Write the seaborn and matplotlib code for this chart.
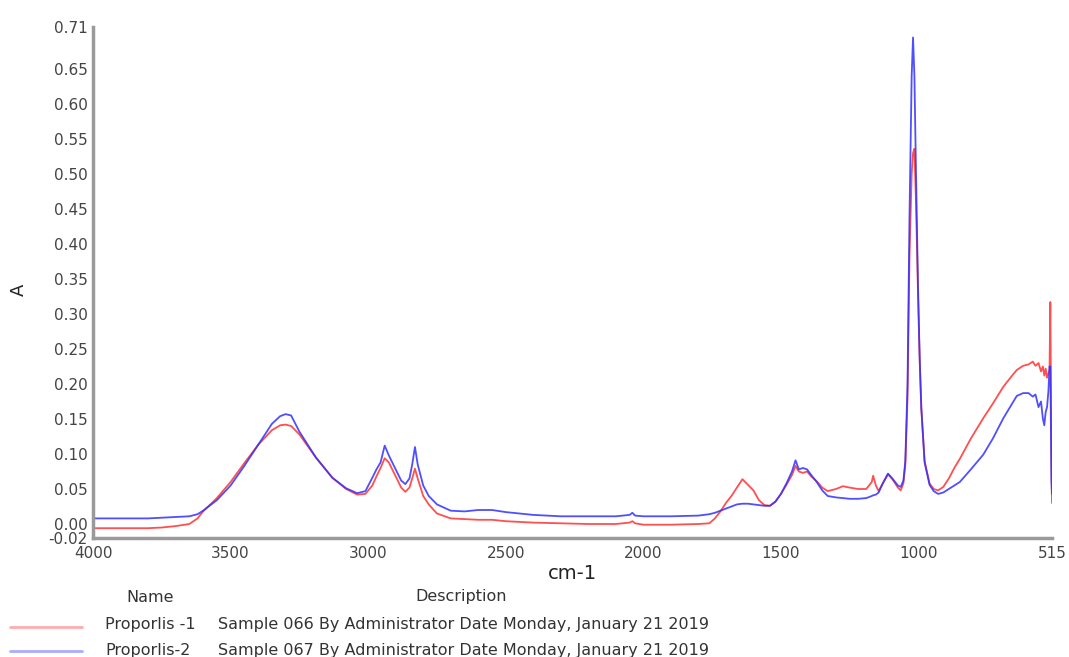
import numpy as np
import pandas as pd
import matplotlib
matplotlib.use("Agg")
import matplotlib.pyplot as plt
from matplotlib.lines import Line2D
import seaborn as sns

# FTIR absorbance spectra of two propolis samples
wavenumber = [
    4000, 3900, 3800, 3750, 3700, 3650, 3620, 3600, 3550, 3500, 3450, 3400,
    3350, 3320, 3300, 3280, 3250, 3190, 3130, 3080, 3040, 3010, 2985, 2970,
    2955, 2940, 2925, 2900, 2880, 2865, 2850, 2840, 2830, 2820, 2800, 2780,
    2750, 2700, 2650, 2600, 2550, 2500, 2400, 2300, 2200, 2100, 2050, 2040,
    2030, 2000, 1900, 1800, 1760, 1740, 1720, 1700, 1680, 1660, 1640, 1620,
    1600, 1580, 1560, 1540, 1520, 1500, 1480, 1460, 1447, 1435, 1420, 1405,
    1390, 1370, 1350, 1330, 1300, 1275, 1250, 1220, 1190, 1170, 1165, 1155,
    1145, 1130, 1111, 1095, 1075, 1065, 1055, 1048, 1040, 1033, 1025, 1020,
    1015, 1010, 1002, 996, 990, 978, 960, 945, 929, 910, 890, 870, 850, 810,
    765, 730, 692, 660, 643, 620, 600, 585, 575, 564, 555, 548, 543, 538,
    533, 528, 524, 521, 519, 517, 515,
]
proporlis_1 = [
    -0.006, -0.006, -0.006, -0.005, -0.003, 0.000, 0.008, 0.018, 0.037, 0.060, 0.087, 0.113,
    0.134, 0.141, 0.142, 0.140, 0.128, 0.095, 0.066, 0.050, 0.042, 0.043, 0.055, 0.068,
    0.080, 0.094, 0.088, 0.068, 0.052, 0.046, 0.052, 0.065, 0.079, 0.065, 0.040, 0.028,
    0.015, 0.008, 0.007, 0.006, 0.006, 0.004, 0.002, 0.001, 0.000, 0.000, 0.002, 0.004,
    0.001, -0.001, -0.001, 0.000, 0.001, 0.008, 0.018, 0.030, 0.040, 0.052, 0.064, 0.056,
    0.048, 0.034, 0.027, 0.026, 0.032, 0.043, 0.056, 0.070, 0.083, 0.075, 0.073, 0.075,
    0.068, 0.061, 0.052, 0.047, 0.050, 0.054, 0.052, 0.050, 0.050, 0.060, 0.069, 0.055,
    0.047, 0.058, 0.071, 0.064, 0.052, 0.048, 0.058, 0.085, 0.180, 0.380, 0.500, 0.530,
    0.536, 0.470, 0.330, 0.235, 0.165, 0.090, 0.058, 0.050, 0.048, 0.053, 0.065, 0.080, 0.093, 0.122,
    0.151, 0.172, 0.196, 0.212, 0.220, 0.226, 0.228, 0.232, 0.226, 0.230, 0.218, 0.225, 0.212, 0.222,
    0.209, 0.215, 0.220, 0.317, 0.200, 0.080, 0.030,
]
proporlis_2 = [
    0.008, 0.008, 0.008, 0.009, 0.010, 0.011, 0.014, 0.019, 0.034, 0.055, 0.083, 0.113,
    0.143, 0.154, 0.157, 0.155, 0.132, 0.095, 0.066, 0.051, 0.044, 0.047, 0.066, 0.078,
    0.088, 0.112, 0.098, 0.078, 0.062, 0.057, 0.065, 0.085, 0.110, 0.085, 0.055, 0.040,
    0.028, 0.019, 0.018, 0.020, 0.020, 0.017, 0.013, 0.011, 0.011, 0.011, 0.013, 0.016,
    0.012, 0.011, 0.011, 0.012, 0.014, 0.016, 0.019, 0.022, 0.025, 0.028, 0.029, 0.029,
    0.028, 0.027, 0.026, 0.026, 0.032, 0.043, 0.058, 0.075, 0.091, 0.078, 0.080, 0.078,
    0.070, 0.060, 0.048, 0.040, 0.038, 0.037, 0.036, 0.036, 0.037, 0.040, 0.041, 0.042,
    0.045, 0.058, 0.072, 0.065, 0.055, 0.053, 0.062, 0.090, 0.200, 0.436, 0.640, 0.695,
    0.640, 0.520, 0.341, 0.241, 0.167, 0.088, 0.056, 0.047, 0.043, 0.045, 0.050, 0.055, 0.060, 0.078,
    0.099, 0.122, 0.151, 0.172, 0.183, 0.187, 0.187, 0.182, 0.185, 0.167, 0.175, 0.150, 0.141, 0.160,
    0.167, 0.190, 0.225, 0.225, 0.150, 0.060, 0.043,
]

series_names = ["Proporlis -1", "Proporlis-2"]
series_desc = [
    "Sample 066 By Administrator Date Monday, January 21 2019",
    "Sample 067 By Administrator Date Monday, January 21 2019",
]
series_colors = ["#ff3030", "#3030ff"]
x_ticks = [4000, 3500, 3000, 2500, 2000, 1500, 1000, 515]
y_ticks = [-0.02, 0.00, 0.05, 0.10, 0.15, 0.20, 0.25, 0.30, 0.35, 0.40,
           0.45, 0.50, 0.55, 0.60, 0.65, 0.71]

sns.set_theme(style="white")
plt.rcParams["font.family"] = ["DejaVu Sans"]

df = pd.DataFrame({
    "cm-1": wavenumber * 2,
    "A": proporlis_1 + proporlis_2,
    "Name": [series_names[0]] * len(wavenumber) + [series_names[1]] * len(wavenumber),
})

W, H = 1069, 657
fig = plt.figure(figsize=(W / 100, H / 100), dpi=100)
ax = fig.add_axes([93 / W, 1 - 538 / H, 959 / W, 511 / H])

sns.lineplot(data=df, x="cm-1", y="A", hue="Name", palette=series_colors,
             estimator=None, sort=False, linewidth=1.3, alpha=0.85,
             legend=False, ax=ax)

ax.set_xlim(4000, 515)
ax.set_ylim(-0.02, 0.71)
ax.set_xticks(x_ticks)
ax.set_xticklabels([str(t) for t in x_ticks])
ax.set_yticks(y_ticks)
ax.set_yticklabels([f"{t:.2f}" for t in y_ticks])

for side in ["top", "right"]:
    ax.spines[side].set_visible(False)
for side in ["left", "bottom"]:
    ax.spines[side].set_color("#9a9a9a")
    ax.spines[side].set_linewidth(2.5)

ax.tick_params(axis="y", direction="out", length=3, width=1, color="#555555",
               labelsize=11, labelcolor="#444444", pad=1)
ax.tick_params(axis="x", direction="in", length=3, width=1, color="#555555",
               labelsize=11, labelcolor="#444444", pad=6)
ax.set_xlabel("cm-1", fontsize=14, color="#222222", labelpad=2)
ax.set_ylabel("A", fontsize=13, color="#222222")
ax.yaxis.set_label_coords(-65 / 959, (538 - 290) / 511)

# Spectrum key below the plot
fig.text(150 / W, 1 - 597 / H, "Name", ha="center", va="center",
         fontsize=11.5, color="#333333")
fig.text(461 / W, 1 - 597 / H, "Description", ha="center", va="center",
         fontsize=11.5, color="#333333")
for i, (name, desc, col) in enumerate(zip(series_names, series_desc, series_colors)):
    yf_text = 1 - (625 + i * 25) / H
    yf_line = 1 - (627 + i * 24) / H
    fig.add_artist(Line2D([10 / W, 82 / W], [yf_line, yf_line], color=col,
                          linewidth=2, alpha=0.4))
    fig.text(105 / W, yf_text, name, ha="left", va="center", fontsize=11.5,
             color="#333333")
    fig.text(218 / W, yf_text, desc, ha="left", va="center", fontsize=11.5,
             color="#333333")

fig.savefig("out.png", dpi=100)
